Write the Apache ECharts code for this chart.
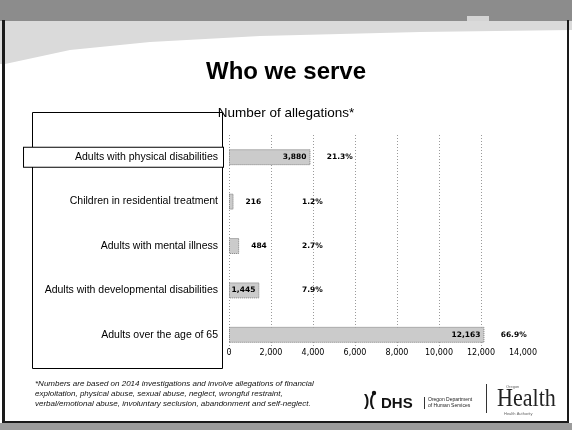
<!DOCTYPE html>
<html>
<head>
<meta charset="utf-8">
<style>
  html, body { margin: 0; padding: 0; background: #fff; }
  #chart { width: 572px; height: 430px; }
</style>
<script src="https://cdn.jsdelivr.net/npm/echarts@6/dist/echarts.min.js"></script>
</head>
<body>
<div id="chart"></div>
<script>
// Allegations by population served
const categories = [
  'Adults with physical disabilities',
  'Children in residential treatment',
  'Adults with mental illness',
  'Adults with developmental disabilities',
  'Adults over the age of 65'
];
const allegations = [3880, 216, 484, 1445, 12163];
const shares = ['21.3%', '1.2%', '2.7%', '7.9%', '66.9%'];
const xTicks = [0, 2000, 4000, 6000, 8000, 10000, 12000, 14000];
const footnoteLines = [
  '*Numbers are based on 2014 investigations and involve allegations of financial',
  'exploitation, physical abuse, sexual abuse, neglect, wrongful restraint,',
  'verbal/emotional abuse, involuntary seclusion, abandonment and self-neglect.'
];

const chart = echarts.init(document.getElementById('chart'), null, { renderer: 'canvas' });

const numFont = 'DejaVu Sans';
const fmt = v => Number(v).toLocaleString('en-US');

// Category labels; the first one sits in its own outlined box
const yData = categories.map((c, i) => i === 0
  ? { value: c, textStyle: { borderColor: '#000', borderWidth: 1, backgroundColor: '#fff', padding: [4, 5, 4, 51] } }
  : c);

// Bars: big ones carry their number inside the end, small ones just outside
const barData = allegations.map(v => ({
  value: v,
  label: v >= 1000
    ? { position: 'insideRight', distance: 4 }
    : { position: 'right', distance: 12 }
}));

// Share labels follow the bar end, but never sit left of a common column
const shareData = allegations.map((v, i) => ({
  value: [Math.max(v + 750, 3450), i],
  share: shares[i]
}));

const footnote = footnoteLines.map((t, i) => ({
  type: 'text', left: 35, top: 380 + i * 10,
  style: { text: t, font: 'italic 8px "Liberation Sans", Arial, sans-serif', fill: '#111' }
}));

chart.setOption({
  animation: false,
  backgroundColor: '#fff',
  title: [
    { text: 'Who we serve', left: 'center', top: 55,
      textStyle: { fontFamily: 'Liberation Sans, Arial, sans-serif', fontSize: 24, fontWeight: 'bold', color: '#000' } },
    { text: 'Number of allegations*', left: 'center', top: 101,
      textStyle: { fontFamily: 'Liberation Sans, Arial, sans-serif', fontSize: 13.5, fontWeight: 'normal', color: '#000' } }
  ],
  grid: { left: 229, top: 135, width: 294, height: 222, containLabel: false },
  xAxis: {
    type: 'value', min: 0, max: xTicks[xTicks.length - 1], interval: 2000,
    axisLine: { show: false }, axisTick: { show: false },
    axisLabel: { margin: -8, fontFamily: numFont, fontSize: 8, color: '#000', formatter: v => fmt(v) },
    splitLine: { show: true, showMaxLine: false, lineStyle: { color: '#9a9a9a', type: [1, 2], width: 1 } }
  },
  yAxis: {
    type: 'category', inverse: true, data: yData,
    axisLine: { show: false }, axisTick: { show: false },
    axisLabel: { margin: 6, padding: [0, 5, 0, 0], fontFamily: 'Liberation Sans, Arial, sans-serif', fontSize: 10.5, color: '#000' }
  },
  series: [
    {
      type: 'bar', data: barData, barWidth: 16,
      itemStyle: { color: '#cbcbcb', borderColor: '#7a7a7a', borderWidth: 1, borderType: [1, 1] },
      label: { show: true, fontFamily: numFont, fontSize: 7.5, fontWeight: 'bold', color: '#000', formatter: p => fmt(p.value) }
    },
    {
      type: 'scatter', data: shareData, symbolSize: 1, silent: true,
      itemStyle: { opacity: 1, color: 'rgba(0,0,0,0)' },
      label: { show: true, position: 'right', distance: 0, fontFamily: numFont, fontSize: 7.5, fontWeight: 'bold',
               color: '#000', textBorderWidth: 0, formatter: p => p.data.share }
    }
  ],
  graphic: [
    // slide banner and swoosh
    { type: 'rect', z: -20, shape: { x: 0, y: 0, width: 572, height: 21 }, style: { fill: '#8c8c8c' } },
    { type: 'polygon', z: -20, shape: { points: [[0, 21], [572, 21], [572, 30], [420, 32], [260, 36], [150, 42], [70, 50], [5, 64], [0, 64]] },
      style: { fill: '#dadada' } },
    { type: 'rect', z: -19, shape: { x: 467, y: 16, width: 22, height: 5 }, style: { fill: '#d4d4d4' } },
    // slide frame
    { type: 'rect', z: -15, shape: { x: 2, y: 20, width: 3, height: 402 }, style: { fill: '#1a1a1a' } },
    { type: 'rect', z: -15, shape: { x: 567, y: 20, width: 2, height: 402 }, style: { fill: '#1a1a1a' } },
    { type: 'rect', z: -15, shape: { x: 2, y: 421, width: 567, height: 2 }, style: { fill: '#1a1a1a' } },
    { type: 'rect', z: -15, shape: { x: 0, y: 423, width: 572, height: 7 }, style: { fill: '#9c9c9c' } },
    // box around the category labels
    { type: 'rect', z: -10, shape: { x: 32.5, y: 112.5, width: 190, height: 256 }, style: { fill: 'none', stroke: '#000', lineWidth: 1 } },
    ...footnote,
    // DHS mark
    { type: 'circle', shape: { cx: 374, cy: 393, r: 2.2 }, style: { fill: '#111' } },
    { type: 'text', left: 364, top: 394, style: { text: ')(', font: 'bold 16px "Liberation Sans", Arial, sans-serif', fill: '#111' } },
    { type: 'text', left: 381, top: 396, style: { text: 'DHS', font: 'bold 15px "Liberation Sans", Arial, sans-serif', fill: '#111' } },
    { type: 'rect', shape: { x: 424, y: 397, width: 1, height: 12 }, style: { fill: '#333' } },
    { type: 'text', left: 428, top: 397, style: { text: 'Oregon Department\nof Human Services', font: '5px "Liberation Sans", Arial, sans-serif', fill: '#222', lineHeight: 6 } },
    { type: 'rect', shape: { x: 486, y: 384, width: 1, height: 29 }, style: { fill: '#333' } },
    // Health mark
    { type: 'text', left: 497, top: 386, scaleX: 0.85, style: { text: 'Health', font: '26px "Liberation Serif", "DejaVu Serif", serif', fill: '#222' } },
    { type: 'text', left: 506, top: 385, style: { text: 'Oregon', font: '4px "Liberation Sans", sans-serif', fill: '#666' } },
    { type: 'text', left: 504, top: 412, style: { text: 'Health Authority', font: '4px "Liberation Sans", sans-serif', fill: '#666' } }
  ]
});
</script>
</body>
</html>
